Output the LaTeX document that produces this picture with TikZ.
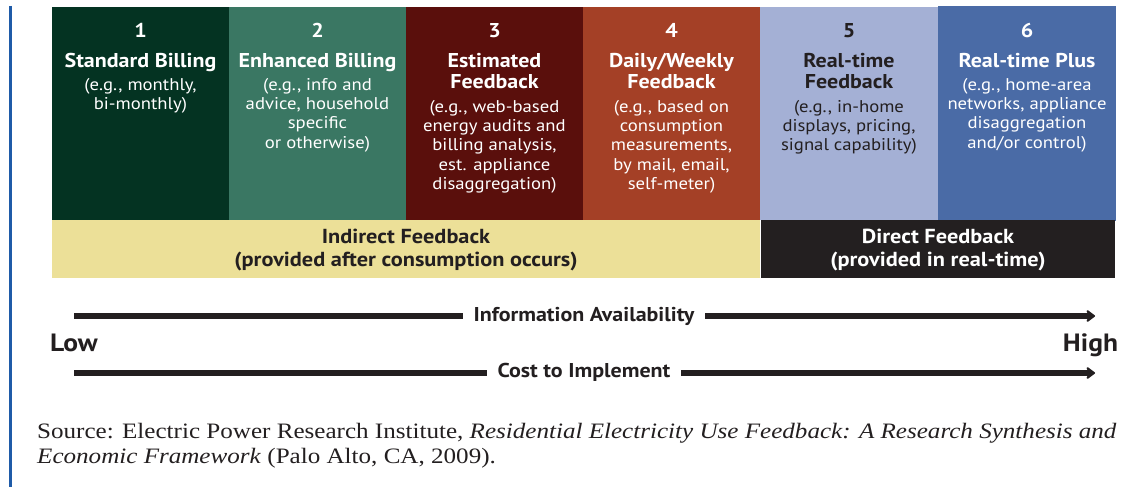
\documentclass[tikz,border=0pt]{standalone}
\usepackage{fontspec}
\setmainfont[FakeStretch=1.14]{Liberation Serif}
\newfontfamily\sansf[FakeStretch=1.1]{PT Sans}
\usetikzlibrary{arrows.meta}
\definecolor{cA}{HTML}{043322}
\definecolor{cB}{HTML}{3A7763}
\definecolor{cC}{HTML}{5A0F0C}
\definecolor{cD}{HTML}{A44026}
\definecolor{cE}{HTML}{A4B0D5}
\definecolor{cF}{HTML}{4A6BA6}
\definecolor{cY}{HTML}{ECE098}
\definecolor{cK}{HTML}{231F20}
\definecolor{cL}{HTML}{1F5BA8}
\tikzset{
  colbox/.style={draw=none,inner sep=0pt,minimum width=177.4pt,minimum height=213pt,anchor=north west},
  bandbox/.style={draw=none,inner sep=0pt,anchor=north west,minimum height=58pt},
  numtxt/.style={anchor=base,inner sep=0pt,font=\sansf\bfseries\fontsize{20}{21.5}\selectfont},
  ttltxt/.style={anchor=base,inner sep=0pt,align=center,font=\sansf\bfseries\fontsize{20}{21.5}\selectfont},
  subtxt/.style={anchor=base,inner sep=0pt,align=center,font=\sansf\fontsize{17}{19.4}\selectfont},
  bandtxt/.style={anchor=base,inner sep=0pt,align=center,font=\sansf\bfseries\fontsize{20.3}{23}\selectfont},
  axtxt/.style={anchor=base,inner xsep=11pt,inner ysep=4pt,fill=white,font=\sansf\bfseries\fontsize{20}{22}\selectfont,text=cK},
  endtxt/.style={anchor=base,inner sep=0pt,font=\sansf\bfseries\fontsize{25}{28}\selectfont,text=cK},
  bigarrow/.style={line width=6pt,cK,-{Stealth[length=10pt,width=15pt,inset=3pt,round]}}
}
\begin{document}
\begin{tikzpicture}[x=1pt,y=-1pt]
\useasboundingbox[fill=white] (0,0) rectangle (1127,487);
% left rule
\coordinate (rl1) at (10.5,6);
\coordinate (rl2) at (10.5,487);
\draw[cL,line width=2.5pt] (rl1) -- (rl2);
% columns
\node[colbox,fill=cA] (b1) at (52,7) {};
\node[colbox,fill=cB] (b2) at (229,7) {};
\node[colbox,fill=cC] (b3) at (406,7) {};
\node[colbox,fill=cD] (b4) at (583,7) {};
\node[colbox,fill=cE] (b5) at (760,7) {};
\node[colbox,fill=cF,minimum width=178pt,minimum height=215pt] (b6) at (938,6) {};
% bands
\node[bandbox,fill=cY,minimum width=708pt] (yb) at (52,220) {};
\node[bandbox,fill=cK,minimum width=354pt] (kb) at (761,220) {};
% column texts (base = baseline of last line)
\node[numtxt,text=white] (n1) at (140.5,38) {1};
\node[ttltxt,text=white] (t1) at (140.5,67) {Standard Billing};
\node[subtxt,text=white] (s1) at (140.5,109.4) {(e.g., monthly,\\bi-monthly)};

\node[numtxt,text=white] (n2) at (317.5,38) {2};
\node[ttltxt,text=white] (t2) at (317.5,67) {Enhanced Billing};
\node[subtxt,text=white] (s2) at (317.5,148.2) {(e.g., info and\\advice, household\\specific\\or otherwise)};

\node[numtxt,text=white] (n3) at (494.5,38) {3};
\node[ttltxt,text=white] (t3) at (494.5,88.5) {Estimated\\Feedback};
\node[subtxt,text=white] (s3) at (494.5,189.6) {(e.g., web-based\\energy audits and\\billing analysis,\\est. appliance\\disaggregation)};

\node[numtxt,text=white] (n4) at (671.5,38) {4};
\node[ttltxt,text=white] (t4) at (671.5,88.5) {Daily/Weekly\\Feedback};
\node[subtxt,text=white] (s4) at (671.5,189.6) {(e.g., based on\\consumption\\measurements,\\by mail, email,\\self-meter)};

\node[numtxt,text=cK] (n5) at (849,38) {5};
\node[ttltxt,text=cK] (t5) at (849,88.5) {Real-time\\Feedback};
\node[subtxt,text=cK] (s5) at (849,150.8) {(e.g., in-home\\displays, pricing,\\signal capability)};

\node[numtxt,text=white] (n6) at (1027,38) {6};
\node[ttltxt,text=white] (t6) at (1027,67) {Real-time Plus};
\node[subtxt,text=white] (s6) at (1027,148.2) {(e.g., home-area\\networks, appliance\\disaggregation\\and/or control)};
% band texts
\node[bandtxt,text=cK] (yt) at (406,266) {Indirect Feedback\\(provided after consumption occurs)};
\node[bandtxt,text=white] (kt) at (938,266) {Direct Feedback\\(provided in real-time)};
% arrows
\coordinate (a1s) at (74,316);
\coordinate (a1e) at (1095,316);
\coordinate (a2s) at (74,373);
\coordinate (a2e) at (1095,373);
\draw[bigarrow] (a1s) -- (a1e);
\draw[bigarrow] (a2s) -- (a2e);
\node[axtxt] (ia) at (584,321.5) {Information Availability};
\node[axtxt] (ci) at (584,377.5) {Cost to Implement};
\node[endtxt] (lo) at (74,351) {Low};
\node[endtxt] (hi) at (1090.5,351) {High};
% source
\node[anchor=base west,inner sep=0pt,align=left,font=\fontsize{22}{25}\selectfont,text=cK] (src) at (37,463)
  {Source: Electric Power Research Institute, \textit{Residential Electricity Use Feedback: A Research Synthesis and}\\
   \textit{Economic Framework} (Palo Alto, CA, 2009).};
\end{tikzpicture}
\end{document}
